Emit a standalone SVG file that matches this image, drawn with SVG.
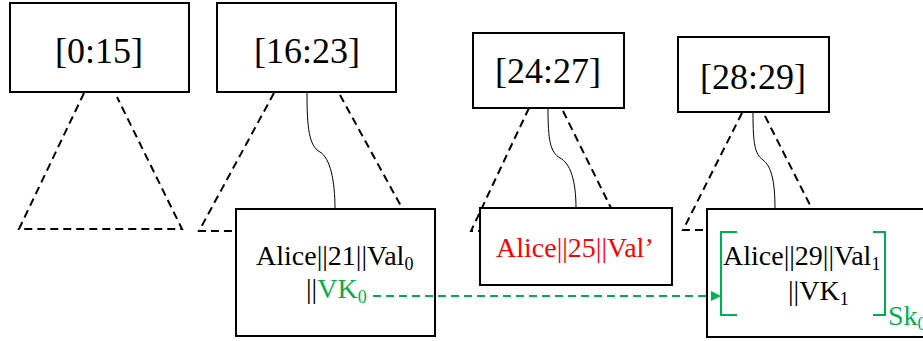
<svg xmlns="http://www.w3.org/2000/svg" width="923" height="341" viewBox="0 0 923 341">
<defs>
<style>
.box{fill:#fff;stroke:#000;stroke-width:2}
.dash{fill:none;stroke:#000;stroke-width:2;stroke-dasharray:8,5}
.link{fill:none;stroke:#000;stroke-width:1}
.big{font-family:"Liberation Serif","Times New Roman",serif;font-size:36px;fill:#000;text-anchor:middle}
.t{font-family:"Liberation Serif","Times New Roman",serif;font-size:28px;fill:#000}
.g{fill:#00B050}
.r{fill:#FF0000}
.sub{font-size:18px}
.gline{fill:none;stroke:#00B050;stroke-width:2;stroke-dasharray:8,5}
.brk{fill:none;stroke:#00B050;stroke-width:2}
</style>
<marker id="ga" markerWidth="10" markerHeight="10" refX="9" refY="5" orient="auto" markerUnits="userSpaceOnUse">
<path d="M0,0 L10,5 L0,10 Z" fill="#00B050"/>
</marker>
</defs>
<rect width="923" height="341" fill="#fff"/>
<g id="connectors">
<path class="dash" d="M84,93 L19,229 L182,229 L117,97"/>
<path class="dash" d="M274,93 L199,231 L236,231"/>
<path class="dash" d="M340,95 L402,208"/>
<path class="link" d="M307,93 C307,128 309,146 320,152 C330,158 335,180 335,209"/>
<path class="dash" d="M529,108 L471,231 L480,231"/>
<path class="dash" d="M563,111 L611,208"/>
<path class="link" d="M548,108 C548,140 550,152 560,158 C570,163 576,180 576,208"/>
<path class="dash" d="M742,113 L683,230 L707,230"/>
<path class="dash" d="M765,116 L812,209"/>
<path class="link" d="M753,113 C753,145 755,154 763,160 C771,166 775,180 775,209"/>
</g>
<g id="n015">
<rect class="box" x="10" y="3" width="179" height="89"/>
<text class="big" x="99" y="63">[0:15]</text>
</g>
<g id="n1623">
<rect class="box" x="217" y="3" width="179" height="89"/>
<text class="big" x="307" y="63">[16:23]</text>
</g>
<g id="n2427">
<rect class="box" x="473" y="33" width="151" height="75"/>
<text class="big" x="548" y="83">[24:27]</text>
</g>
<g id="n2829">
<rect class="box" x="678" y="37" width="151" height="75"/>
<text class="big" x="753" y="89">[28:29]</text>
</g>
<g id="leaf21">
<rect class="box" x="236" y="209" width="199" height="127"/>
<text class="t" x="256" y="265">Alice||21||Val<tspan class="sub" dy="5">0</tspan></text>
<text class="t" x="306" y="298">||<tspan class="g">VK</tspan><tspan class="g sub" dy="5">0</tspan></text>
</g>
<g id="leaf25">
<rect class="box" x="480" y="208" width="192" height="77"/>
<text class="t r" x="496" y="257">Alice||25||Val’</text>
</g>
<g id="leaf29">
<rect class="box" x="707" y="209" width="230" height="128"/>
<path class="brk" d="M737,232 L721,232 L721,315 L737,315"/>
<path class="brk" d="M873,232 L885,232 L885,315 L873,315"/>
<text class="t" x="723" y="265">Alice||29||Val<tspan class="sub" dy="5">1</tspan></text>
<text class="t" x="788" y="300">||VK<tspan class="sub" dy="5">1</tspan></text>
<text class="t g" x="888" y="325">Sk<tspan class="sub" dy="5">0</tspan></text>
</g>
<g id="arrow">
<path class="gline" d="M373,296 L720,296" marker-end="url(#ga)"/>
</g>
</svg>
